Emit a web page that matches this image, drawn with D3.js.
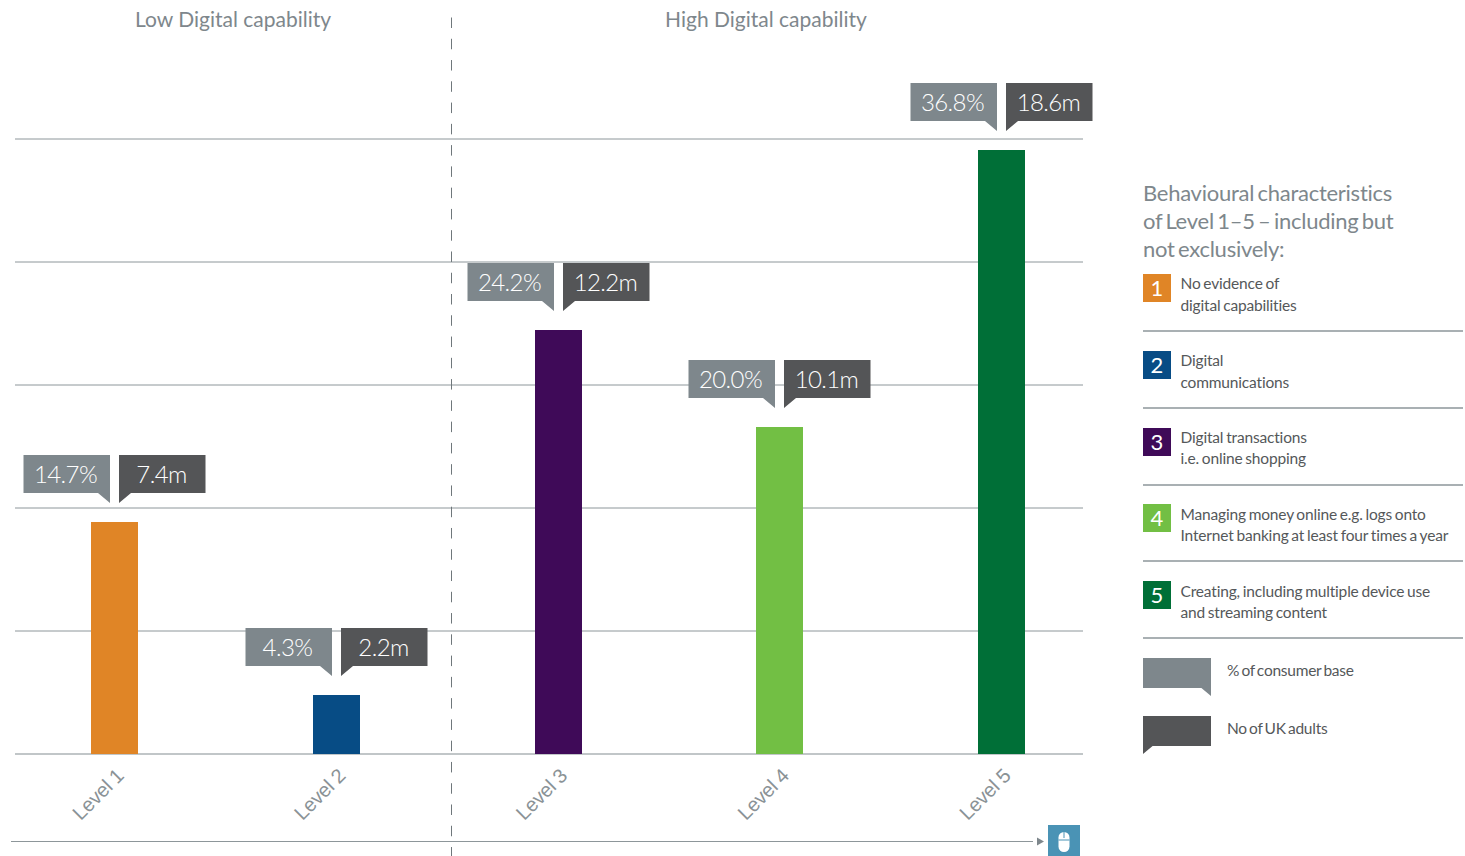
<!DOCTYPE html>
<html><head><meta charset="utf-8">
<script src="https://cdn.jsdelivr.net/npm/d3@7/dist/d3.min.js"></script>
<style>
html,body{margin:0;padding:0;background:#fff;overflow:hidden}
svg{display:block;font-family:Lato,"Open Sans",sans-serif}
</style></head><body><svg id="c" width="1465" height="856"></svg>
<script>
const categories = ["Level 1","Level 2","Level 3","Level 4","Level 5"];
// Bar heights as drawn in the picture, in grid units (bars are not strictly proportional to labels)
const barValues = [14.15, 3.6, 25.85, 19.95, 36.8];
const percentLabels = ["14.7%","4.3%","24.2%","20.0%","36.8%"];
const adultLabels = ["7.4m","2.2m","12.2m","10.1m","18.6m"];
const barColours = ["#e08526","#074c85","#3f0a58","#72bf44","#006f37"];
const gridTicks = [0,7.5,15,22.5,30,37.5];
const groupTitles = ["Low Digital capability","High Digital capability"];
const legendTitle = ["Behavioural characteristics","of Level 1–5 – including but","not exclusively:"];
const legendNumbers = ["1","2","3","4","5"];
const legendText = [
 ["No evidence of","digital capabilities"],
 ["Digital","communications"],
 ["Digital transactions","i.e. online shopping"],
 ["Managing money online e.g. logs onto","Internet banking at least four times a year"],
 ["Creating, including multiple device use","and streaming content"]];
const calloutLegend = ["% of consumer base","No of UK adults"];

const grey="#7e878c", dark="#545557", textC="#55585a", line="#8d969a";
const svg=d3.select("#c");
const x=d3.scalePoint().domain(categories).range([114.5,1001.5]);
const y=d3.scaleLinear().domain([0,37.5]).range([754,139]);

// grid
const gy=svg.append("g").attr("transform","translate(15,-0.5)")
 .call(d3.axisLeft(y).tickValues(gridTicks).tickSize(-1068).tickFormat(""));
gy.select(".domain").remove();
gy.selectAll("line").attr("stroke",line).attr("stroke-width",1);
gy.selectAll(".tick").filter(d=>d===0).select("line").attr("stroke","#adb3b6").attr("stroke-width",1.5);

// x axis
const gx=svg.append("g").attr("transform","translate(0,754)")
 .call(d3.axisBottom(x).tickSize(0));
gx.select(".domain").remove();
gx.selectAll("text").attr("fill","#8a9296").attr("font-size",20).attr("font-weight",300)
 .attr("letter-spacing",-0.3)
 .attr("text-anchor","end").attr("dy",0).attr("x",10).attr("y",23)
 .attr("transform","rotate(-45 10 23)");

// bars
svg.append("g").selectAll("rect").data(categories).join("rect")
 .attr("x",d=>Math.round(x(d)-23.5)).attr("width",47)
 .attr("y",(d,i)=>Math.round(y(barValues[i]))).attr("height",(d,i)=>y(0)-Math.round(y(barValues[i])))
 .attr("fill",(d,i)=>barColours[i]);

// divider
svg.append("line").attr("x1",451.5).attr("x2",451.5).attr("y1",17.5).attr("y2",856)
 .attr("stroke","#6f777b").attr("stroke-width",1).attr("stroke-dasharray","10.5 10.77");

// titles
svg.selectAll(".gt").data(groupTitles).join("text").attr("class","gt")
 .attr("x",(d,i)=>[233,766][i]).attr("y",27).attr("text-anchor","middle")
 .attr("font-size",21).attr("fill","#7e878c").text(d=>d);

// callouts
function callout(g,w,h,tail,left){
 const p=left?`M0,0H${w}V${h+tail}L${w-tail*1.2},${h}H0Z`:`M0,0H${w}V${h}H${tail*1.2}L0,${h+tail}Z`;
 g.append("path").attr("d",p).attr("fill",left?grey:dark);
}
categories.forEach((c,i)=>{
 const cx=Math.round(x(c)-0.5)+0.5, top=Math.round(y(barValues[i]))-67;
 const a=svg.append("g").attr("transform",`translate(${cx-91},${top})`);
 callout(a,86.5,38,10,true);
 a.append("text").attr("x",42).attr("y",28).attr("text-anchor","middle").attr("font-size",24).attr("letter-spacing",-0.6).attr("font-weight",300).attr("fill","#fff").text(percentLabels[i]);
 const b=svg.append("g").attr("transform",`translate(${cx+4.5},${top})`);
 callout(b,86.5,38,10,false);
 b.append("text").attr("x",42.5).attr("y",28).attr("text-anchor","middle").attr("font-size",24).attr("letter-spacing",-0.6).attr("font-weight",300).attr("fill","#fff").text(adultLabels[i]);
});

// legend
svg.selectAll(".lt").data(legendTitle).join("text").attr("class","lt")
 .attr("x",1143).attr("y",(d,i)=>201+i*28).attr("font-size",22).attr("letter-spacing",-0.26).attr("word-spacing",-2).attr("fill","#7e878c").text(d=>d);
const rowY=[274,351,428,504,581];
const lineY=[[15,37],[15,37],[15,36],[16,37],[16,37]];
legendNumbers.forEach((n,i)=>{
 const g=svg.append("g").attr("transform",`translate(1143,${rowY[i]})`);
 g.append("rect").attr("width",28).attr("height",28).attr("fill",barColours[i]);
 g.append("text").attr("x",14).attr("y",22).attr("text-anchor","middle").attr("font-size",22).attr("fill","#fff").text(n);
 legendText[i].forEach((t,j)=>g.append("text").attr("x",37.5).attr("y",lineY[i][j]).attr("font-size",15.5).attr("letter-spacing",-0.17).attr("word-spacing",-1).attr("fill",textC).text(t));
 g.append("line").attr("x1",0).attr("x2",320).attr("y1",57).attr("y2",57).attr("stroke",line).attr("stroke-width",1.5);
});
[[658,true],[716,false]].forEach(([yy,left],i)=>{
 const g=svg.append("g").attr("transform",`translate(1143,${yy})`);
 callout(g,68,30,8,left);
 g.append("text").attr("x",84).attr("y",18).attr("font-size",15.5).attr("letter-spacing",-0.25).attr("word-spacing",-1.5).attr("fill",textC).text(calloutLegend[i]);
});

// bottom scroll line + mouse icon
svg.append("line").attr("x1",11).attr("x2",1033).attr("y1",841.5).attr("y2",841.5).attr("stroke",line).attr("stroke-width",1);
svg.append("path").attr("d","M1037,837.5L1044,841.5L1037,845.5Z").attr("fill",grey);
svg.append("rect").attr("x",1048).attr("y",825).attr("width",32).attr("height",31).attr("fill","#4a93b5");
svg.append("rect").attr("x",1058.5).attr("y",832).attr("width",11).attr("height",20).attr("rx",5.5).attr("fill","#fff");
svg.append("line").attr("x1",1064).attr("x2",1064).attr("y1",830).attr("y2",838).attr("stroke","#4a93b5").attr("stroke-width",1);
svg.append("line").attr("x1",1058.5).attr("x2",1069.5).attr("y1",840).attr("y2",840).attr("stroke","#4a93b5").attr("stroke-width",1);
</script></body></html>
